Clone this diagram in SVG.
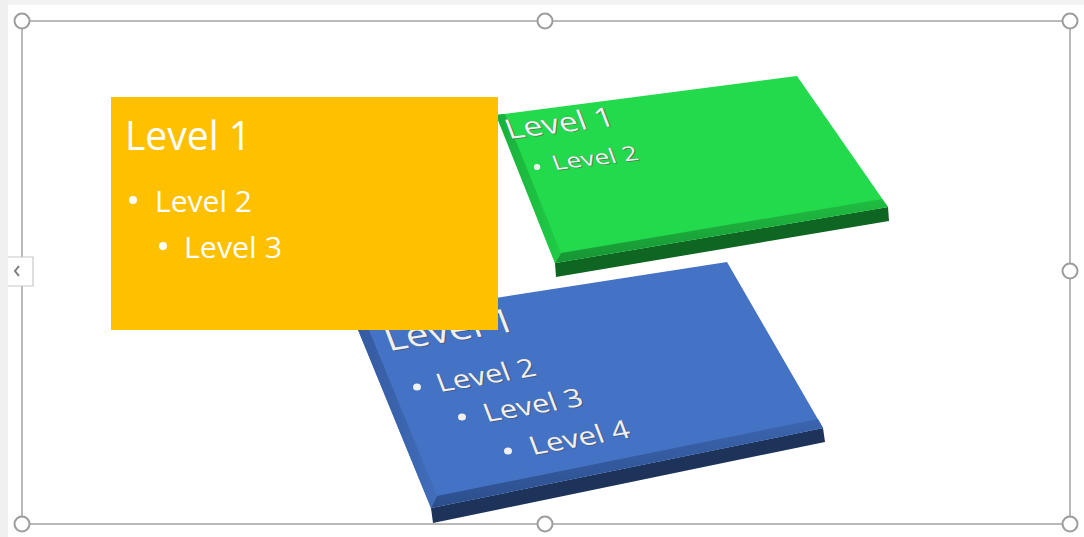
<svg xmlns="http://www.w3.org/2000/svg" width="1084" height="537" viewBox="0 0 1084 537">
<defs>
<linearGradient id="gbB" x1="0" y1="0" x2="0" y2="1"><stop offset="0" stop-color="#1FBE42"/><stop offset="1" stop-color="#179434"/></linearGradient>
<linearGradient id="gbL" x1="1" y1="0" x2="0" y2="0"><stop offset="0" stop-color="#20CC46"/><stop offset="1" stop-color="#1AAE3B"/></linearGradient>
<linearGradient id="bbB" x1="0" y1="0" x2="0" y2="1"><stop offset="0" stop-color="#3B65AF"/><stop offset="1" stop-color="#2C4E8C"/></linearGradient>
<linearGradient id="bbL" x1="1" y1="0" x2="0" y2="0"><stop offset="0" stop-color="#416DBB"/><stop offset="1" stop-color="#34599E"/></linearGradient>
</defs>
<style>
.t{font-family:"Open Sans","Liberation Sans",sans-serif;fill:#ffffff}
.t3{font-family:"Open Sans","Liberation Sans",sans-serif;fill:#f0f0f0;stroke:#6b6b6b;stroke-width:0.35;paint-order:stroke}
.sh{font-family:"Open Sans","Liberation Sans",sans-serif;fill:#3a3a3a;opacity:0.45}
.h{fill:#ffffff;stroke:#9c9c9c;stroke-width:2}
.b{fill:#ffffff}
.b3{fill:#f0f0f0}
</style>
<rect x="0" y="0" width="1084" height="537" fill="#ffffff"/>
<rect x="0" y="0" width="1084" height="5" fill="#f2f2f2"/>
<rect x="0" y="0" width="8" height="537" fill="#f0f0f0"/>

<g id="frame">
<rect x="22" y="21" width="1048" height="503" fill="none" stroke="#a8a8a8" stroke-width="1.6"/>
</g>

<g id="green">
<polygon points="555,263 888,207 889,221 556,277" fill="#0F6522"/>
<polygon points="496,115 797,76 888,207 555,263" fill="#22DA4B"/>
<polygon points="555,263 888,207 882,199 561,253" fill="url(#gbB)"/>
<polygon points="496,115 505,114 561,253 555,263" fill="url(#gbL)"/>
<g transform="matrix(1,-0.125,0.31,0.82,509,139)">
<text class="sh" x="1" y="1" font-size="32" textLength="108" lengthAdjust="spacingAndGlyphs">Level 1</text>
<text class="t3" x="0" y="0" font-size="32" textLength="108" lengthAdjust="spacingAndGlyphs">Level 1</text>
</g>
<ellipse cx="537" cy="167" rx="3.2" ry="3" class="b3"/>
<g transform="matrix(1,-0.12,0.31,0.82,555,170)">
<text class="sh" x="1" y="1" font-size="24" textLength="85" lengthAdjust="spacingAndGlyphs">Level 2</text>
<text class="t3" x="0" y="0" font-size="24" textLength="85" lengthAdjust="spacingAndGlyphs">Level 2</text>
</g>
</g>

<g id="blue">
<polygon points="431,508 823,428 825,442 433,523" fill="#1E3359"/>
<polygon points="354,320 727,262 823,428 431,508" fill="#4472C4"/>
<polygon points="431,508 823,428 818,419 437,496" fill="url(#bbB)"/>
<polygon points="354,320 364,318 437,496 431,508" fill="url(#bbL)"/>
<g transform="matrix(1,-0.157,0.32,0.84,389,351)">
<text class="sh" x="1" y="1" font-size="38" textLength="129" lengthAdjust="spacingAndGlyphs">Level 1</text>
<text class="t3" x="0" y="0" font-size="38" textLength="129" lengthAdjust="spacingAndGlyphs">Level 1</text>
</g>
<ellipse cx="417" cy="387" rx="4" ry="3.6" class="b3"/>
<g transform="matrix(1,-0.17,0.32,0.84,440,392)">
<text class="sh" x="1" y="1" font-size="29" textLength="98" lengthAdjust="spacingAndGlyphs">Level 2</text>
<text class="t3" x="0" y="0" font-size="29" textLength="98" lengthAdjust="spacingAndGlyphs">Level 2</text>
</g>
<ellipse cx="462" cy="417" rx="4" ry="3.6" class="b3"/>
<g transform="matrix(1,-0.17,0.32,0.84,487,422)">
<text class="sh" x="1" y="1" font-size="29" textLength="98" lengthAdjust="spacingAndGlyphs">Level 3</text>
<text class="t3" x="0" y="0" font-size="29" textLength="98" lengthAdjust="spacingAndGlyphs">Level 3</text>
</g>
<ellipse cx="508" cy="451" rx="4" ry="3.6" class="b3"/>
<g transform="matrix(1,-0.18,0.32,0.84,533,455)">
<text class="sh" x="1" y="1" font-size="29" textLength="99" lengthAdjust="spacingAndGlyphs">Level 4</text>
<text class="t3" x="0" y="0" font-size="29" textLength="99" lengthAdjust="spacingAndGlyphs">Level 4</text>
</g>
</g>

<g id="yellow">
<rect x="111" y="97" width="387" height="233" fill="#FFC000"/>
<text class="t" x="125" y="150" font-size="40" textLength="126" lengthAdjust="spacingAndGlyphs">Level 1</text>
<circle cx="133" cy="200" r="4" class="b"/>
<text class="t" x="155" y="212" font-size="30" textLength="97" lengthAdjust="spacingAndGlyphs">Level 2</text>
<circle cx="163" cy="246" r="4" class="b"/>
<text class="t" x="184" y="258" font-size="30" textLength="98" lengthAdjust="spacingAndGlyphs">Level 3</text>
</g>

<g id="handles">
<circle cx="22" cy="21" r="7.5" class="h"/>
<circle cx="545" cy="21" r="7.5" class="h"/>
<circle cx="1070" cy="21" r="7.5" class="h"/>
<circle cx="1070" cy="271" r="7.5" class="h"/>
<circle cx="22" cy="524" r="7.5" class="h"/>
<circle cx="545" cy="524" r="7.5" class="h"/>
<circle cx="1070" cy="524" r="7.5" class="h"/>
</g>

<g id="tab">
<path d="M8,257 H33 V286 H8" fill="#ffffff" stroke="#c8c8c8" stroke-width="1.2"/>
<path d="M19,266 L15,271 L19,276" fill="none" stroke="#7a7a7a" stroke-width="2"/>
</g>
</svg>
